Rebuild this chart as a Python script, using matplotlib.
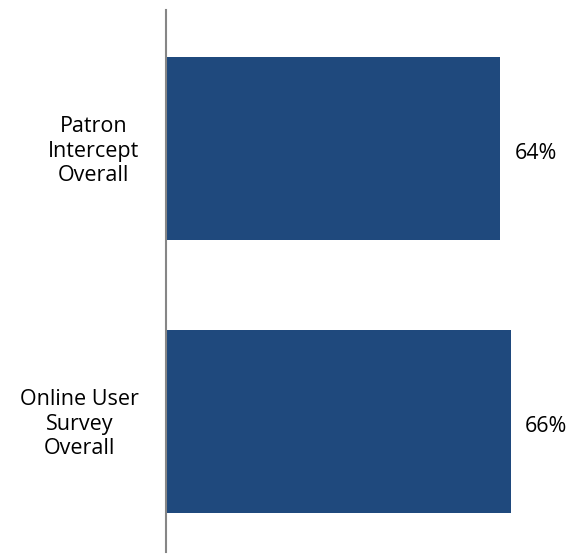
import matplotlib.pyplot as plt
import matplotlib.transforms as mtransforms

categories = ['Patron\nIntercept\nOverall', 'Online User\nSurvey\nOverall']
values = [64, 66]
value_labels = ['64%', '66%']

plt.rcParams['font.family'] = ['Open Sans', 'DejaVu Sans']

fig = plt.figure(figsize=(5.81, 5.56), dpi=100)
ax = fig.add_axes([165 / 581, 4 / 556, 1 - 165 / 581, 542 / 556])

pos = list(range(len(values)))
ax.barh(pos, values, height=0.67, color='#1F497D', left=0)
ax.set_xlim(-0.25, 79.5)
ax.set_ylim(1.478, -0.507)

# value labels to the right of each bar
for y, v, lab in zip(pos, values, value_labels):
    ax.text(v + 2.8, y + 0.02, lab, ha='left', va='center', fontsize=15.5, color='#000000')

# category labels, right-aligned blocks left of the axis, lines centred
trans = mtransforms.blended_transform_factory(fig.transFigure, ax.transData)
for y, cat in zip(pos, categories):
    ax.text(139 / 581, y + 0.01, cat, ha='right', va='center', ma='center', fontsize=15.5,
            linespacing=1.22, transform=trans, clip_on=False)

ax.set_yticks([])
ax.set_xticks([])
for s in ['top', 'right', 'bottom']:
    ax.spines[s].set_visible(False)
ax.spines['left'].set_color('#868686')
ax.spines['left'].set_linewidth(1.5)
ax.spines['left'].set_position(('data', 0))

fig.savefig('out.png', dpi=100)
